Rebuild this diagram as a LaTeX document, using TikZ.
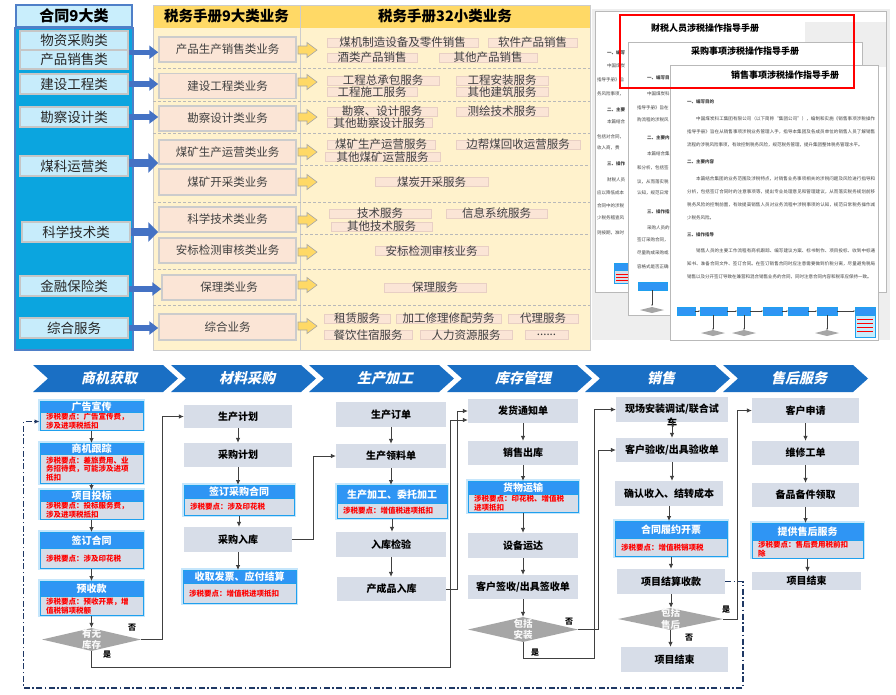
\documentclass[tikz,border=0pt]{standalone}
\usepackage{fontspec}
\setmainfont{Noto Sans CJK SC}
\newfontfamily\chevfont[FakeSlant=0.22]{Noto Sans CJK SC}
\XeTeXlinebreaklocale "zh"
\XeTeXlinebreakskip=0pt plus 1pt
\usetikzlibrary{shapes.geometric,arrows.meta,calc}
\definecolor{hdblue}{HTML}{2F95F4}
\definecolor{bdblue}{HTML}{1FA0EE}
\definecolor{glowc}{HTML}{B4DEFA}
\definecolor{gboxc}{HTML}{D7DDE8}
\definecolor{chevc}{HTML}{1A6FC4}
\definecolor{diamc}{HTML}{A6A6A6}
\definecolor{linec}{HTML}{404040}
\definecolor{navyc}{HTML}{1F3864}
\definecolor{lheadc}{HTML}{C9EEFC}
\definecolor{lbodyc}{HTML}{0BA5DF}
\definecolor{lboxc}{HTML}{C7ECFB}
\definecolor{lineblue}{HTML}{4F7FC8}
\definecolor{arrblue}{HTML}{4472C4}
\definecolor{goldc}{HTML}{FFD966}
\definecolor{creamc}{HTML}{FFF2CC}
\definecolor{peachc}{HTML}{FBE5D6}
\definecolor{peachln}{HTML}{E8CFC4}
\definecolor{txtg}{HTML}{404040}
\definecolor{redt}{HTML}{FF0000}
\tikzset{
  gboxst/.style={fill=gboxc, inner sep=0pt, font=\fontsize{10}{11}\selectfont\bfseries, text=black},
  taxhead/.style={fill=hdblue, draw=bdblue, line width=0.8pt, inner sep=0pt, font=\fontsize{10}{11}\selectfont\bfseries, text=white},
  taxbody/.style={fill=gboxc, draw=bdblue, line width=1pt, inner xsep=6pt, inner ysep=1pt, font=\fontsize{7.5}{8.8}\selectfont\bfseries, text=redt, align=left},
  glow/.style={draw=glowc, line width=4pt, opacity=0.75},
  conn/.style={draw=linec, line width=0.8pt, -{Latex[length=5pt,width=4.5pt]}},
  ddash/.style={draw=navyc, line width=1.3pt, dash pattern=on 6pt off 2.5pt on 1.5pt off 2.5pt, -{Latex[length=5pt,width=4.5pt]}},
  diam/.style={diamond, fill=diamc, inner sep=0pt},
  dtext/.style={align=center, font=\fontsize{9.5}{11.5}\selectfont\bfseries, text=white!95!gray, inner sep=0pt},
  lbl/.style={font=\fontsize{8}{9}\selectfont\bfseries, text=black, inner sep=0pt},
  chevtext/.style={font=\chevfont\bfseries\fontsize{14}{16}\selectfont, text=white},
  lheadst/.style={fill=lheadc, draw=lineblue, line width=1.2pt, inner sep=0pt, font=\fontsize{15}{17}\selectfont\bfseries},
  lboxst/.style={fill=lboxc, draw=gray!45, line width=1.5pt, inner sep=0pt, minimum width=108pt, font=\fontsize{13.5}{15}\selectfont, text=black!85},
  goldhd/.style={fill=goldc, inner sep=0pt, font=\fontsize{14.5}{16}\selectfont\bfseries},
  mboxst/.style={fill=peachc, draw=gray!40, line width=1.5pt, inner sep=0pt, minimum width=137pt, font=\fontsize{11.5}{13}\selectfont, text=txtg},
  barr/.style={draw=arrblue, line width=5.5pt, -{Triangle[length=9pt,width=13pt]}},
  barrbig/.style={draw=arrblue, line width=8pt, -{Triangle[length=10pt,width=19pt]}},
  yarrst/.style={fill=goldc, draw=gray!70, line width=0.6pt},
  sepl/.style={draw=gray!55, line width=0.6pt, dash pattern=on 3pt off 2pt},
  sfill/.style={fill=peachc, draw=peachln, line width=0.5pt},
  stext/.style={font=\fontsize{11.5}{13}\selectfont, text=txtg, inner sep=0pt},
  docpage/.style={fill=white, draw=gray!55, line width=0.6pt},
  dtiny/.style={font=\fontsize{4.5}{5}\selectfont, text=txtg, inner sep=0pt, anchor=west},
  dtinyb/.style={dtiny, font=\fontsize{4.5}{5}\selectfont\bfseries},
  dpara/.style={font=\fontsize{4.5}{13.3}\selectfont, text=txtg, inner sep=0pt, text width=188pt, align=justify, anchor=north west},
  dtitle/.style={font=\fontsize{9}{10}\selectfont\bfseries, text=black, inner sep=0pt},
  tinyblue/.style={fill=hdblue, draw=bdblue, line width=0.3pt},
  tinyline/.style={draw=linec, line width=0.3pt},
}
\newcommand\taxbox[8]{%
  \pgfmathsetmacro\tbw{#4-12}%
  \draw[glow] ({#2-#4/2},#3) rectangle ({#2+#4/2},{#3+#5+#6});%
  \node[taxbody, minimum width=#4pt, text width=\tbw pt, minimum height=#6pt, anchor=north] (#1) at (#2,{#3+#5}) {#8};%
  \node[taxhead, minimum width=#4pt, minimum height=#5pt, anchor=north] (#1h) at (#2,#3) {#7};%
}
\newcommand\chev[3]{%
  \fill[chevc] (#2,365) -- ({#2+130},365) -- ({#2+145},378.5) -- ({#2+130},392) -- (#2,392) -- ({#2+15},378.5) -- cycle;%
  \node[chevtext] (#1) at ({#2+76},378.5) {#3};}
\newcommand\yarr[1]{\draw[yarrst] (298,{#1-4}) -- (307,{#1-4}) -- (307,{#1-7.5}) -- (317,#1) -- (307,{#1+7.5}) -- (307,{#1+4}) -- (298,{#1+4}) -- cycle;}
\newcommand\scat[5]{\draw[sfill] (#2,{#4-4.5}) rectangle (#3,{#4+4.5}); \node[stext] (#1) at ({(#2+#3)/2},#4) {#5};}
\newcommand\vconn[2]{\draw[conn] (#1.south) -- (#1.south |- #2.north);}
\begin{document}
\begin{tikzpicture}[x=1pt,y=-1pt]
\useasboundingbox[fill=white] (0,0) rectangle (896,694);

% ---------- top left: contract classes ----------
\draw[fill=lbodyc, draw=lineblue, line width=1.5pt] (15,28) rectangle (133,350);
\node[lheadst, minimum width=116pt, minimum height=22pt] (lh) at (74,16) {合同9大类};
\node[lboxst, minimum height=19pt] (lb1a) at (74,40.5) {物资采购类};
\node[lboxst, minimum height=19pt] (lb1b) at (74,59.5) {产品销售类};
\node[lboxst, minimum height=20pt] (lb2) at (74,84) {建设工程类};
\node[lboxst, minimum height=20pt] (lb3) at (74,117) {勘察设计类};
\node[lboxst, minimum height=20pt] (lb4) at (74,166) {煤科运营类};
\node[lboxst, minimum height=20pt] (lb5) at (76,232) {科学技术类};
\node[lboxst, minimum height=20pt] (lb6) at (74,286) {金融保险类};
\node[lboxst, minimum height=20pt] (lb7) at (74,328) {综合服务};

% ---------- top middle / right: handbook ----------
\fill[creamc] (153,28) rectangle (590,350);
\node[goldhd, minimum width=147pt, minimum height=23pt] (mh) at (226.5,16.5) {税务手册9大类业务};
\node[goldhd, minimum width=290pt, minimum height=23pt] (rh) at (445,16.5) {税务手册32小类业务};
\draw[gray!40, line width=0.8pt] (153,5) rectangle (590,350);
\draw[gray!40, line width=0.8pt] (300,5) -- (300,350);
\foreach \yy in {68,101,133,202,269,305} {\draw[sepl] (153,\yy) -- (590,\yy);}
\foreach \yy in {165,234} {\draw[sepl] (300,\yy) -- (590,\yy);}

\node[mboxst, minimum height=25pt] (mb1) at (227.5,49.5) {产品生产销售类业务};
\node[mboxst, minimum height=25pt] (mb2) at (227.5,86) {建设工程类业务};
\node[mboxst, minimum height=25pt] (mb3) at (227.5,118.5) {勘察设计类业务};
\node[mboxst, minimum height=24pt] (mb4) at (227.5,152) {煤矿生产运营类业务};
\node[mboxst, minimum height=26pt] (mb5) at (227.5,182) {煤矿开采类业务};
\node[mboxst, minimum height=25pt] (mb6) at (227.5,219.5) {科学技术类业务};
\node[mboxst, minimum height=25pt] (mb7) at (227.5,250.5) {安标检测审核类业务};
\node[mboxst, minimum height=25pt, minimum width=134pt] (mb8) at (229,287.5) {保理类业务};
\node[mboxst, minimum height=26pt] (mb9) at (227.5,327) {综合业务};

\draw[barr] ([yshift=-3pt]lb1b.north east) -- ([yshift=-3pt]lb1b.north east -| mb1.west);
\draw[barr] (lb2.east) -- (lb2.east -| mb2.west);
\draw[barr] (lb3.east) -- (lb3.east -| mb3.west);
\draw[barrbig] ([yshift=3pt]lb4.east) -- ([yshift=3pt]lb4.east -| mb4.west);
\draw[barrbig] (lb5.east) -- (lb5.east -| mb6.west);
\draw[barr] ([yshift=-3pt]lb6.east) -- ([yshift=-3pt]lb6.east -| mb8.west);
\draw[barr] (lb7.east) -- (lb7.east -| mb9.west);

\foreach \yy in {50,82,117,152,182,220,252,285,326} {\yarr{\yy}}

\scat{s1}{327}{478}{42.5}{煤机制造设备及零件销售}
\scat{s2}{488}{577}{42.5}{软件产品销售}
\scat{s3}{327}{417}{57.5}{酒类产品销售}
\scat{s4}{439}{537}{57.5}{其他产品销售}
\scat{s5}{327}{439}{80.5}{工程总承包服务}
\scat{s6}{456}{548}{80.5}{工程安装服务}
\scat{s7}{327}{417}{92}{工程施工服务}
\scat{s8}{456}{548}{92}{其他建筑服务}
\scat{s9}{327}{437}{111.5}{勘察、设计服务}
\scat{s10}{456}{548}{111.5}{测绘技术服务}
\scat{s11}{327}{432}{123}{其他勘察设计服务}
\scat{s12}{327}{435}{144.5}{煤矿生产运营服务}
\scat{s13}{456}{580}{144.5}{边帮煤回收运营服务}
\scat{s14}{325}{440}{157}{其他煤矿运营服务}
\scat{s15}{375}{488}{182}{煤炭开采服务}
\scat{s16}{329}{431}{213.5}{技术服务}
\scat{s17}{446}{547}{213.5}{信息系统服务}
\scat{s18}{331}{432}{226.5}{其他技术服务}
\scat{s19}{375}{488}{251}{安标检测审核业务}
\scat{s20}{384}{486}{287.5}{保理服务}
\scat{s21}{324}{390}{318.5}{租赁服务}
\scat{s22}{396}{501}{318.5}{加工修理修配劳务}
\scat{s23}{508}{578}{318.5}{代理服务}
\scat{s24}{324}{412}{335}{餐饮住宿服务}
\scat{s25}{420}{512}{335}{人力资源服务}
\scat{s26}{525}{568}{335}{......}

% ---------- top right: handbook pages ----------
\fill[gray!13] (592,9) rectangle (890,340);
\draw[docpage] (595,11) rectangle (886,292);
\fill[gray!13] (805,22) rectangle (886,67);
\node[dtinyb] (p1a) at (607,53) {一、编写};
\node[dtiny] (p1b) at (607,66) {中国煤炭};
\node[dtiny] (p1c) at (597,80) {指导手册》旨};
\node[dtiny] (p1d) at (597,94) {务风险事项，};
\node[dtinyb] (p1e) at (607,110) {二、主要};
\node[dtiny] (p1f) at (607,122) {本篇结合};
\node[dtiny] (p1g) at (597,137) {包括对合同，};
\node[dtiny] (p1h) at (597,148) {收入商，费};
\node[dtinyb] (p1i) at (607,164) {三、操作};
\node[dtiny] (p1j) at (607,180) {财税人员};
\node[dtiny] (p1k) at (597,193) {应以降低成本};
\node[dtiny] (p1l) at (597,206) {合同中的涉税};
\node[dtiny] (p1m) at (597,218) {少税务稽查风};
\node[dtiny] (p1n) at (597,233) {则按期，准时};
\draw[tinyblue] (614,263) rectangle (635,270);
\draw[fill=gboxc, draw=bdblue, line width=0.3pt] (614,270) rectangle (635,283);
\foreach \yy in {274,277,280} {\draw[redt, line width=0.6pt] (616,\yy) -- (633,\yy);}

\draw[docpage] (628,42) rectangle (862,315);
\node[dtinyb] (p2a) at (647,78) {一、编写目};
\node[dtiny] (p2b) at (647,94) {中国煤炭科};
\node[dtiny] (p2c) at (637,108) {指导手册》旨在};
\node[dtiny] (p2d) at (637,120) {购流程的涉税风};
\node[dtinyb] (p2e) at (647,138) {二、主要内};
\node[dtiny] (p2f) at (647,154) {本篇结合集};
\node[dtiny] (p2g) at (637,168) {和分析，包括签};
\node[dtiny] (p2h) at (637,182) {议，从而落实税};
\node[dtiny] (p2i) at (637,193) {认知，规范日常};
\node[dtinyb] (p2j) at (647,212) {三、操作指};
\node[dtiny] (p2k) at (647,228) {采购人员的};
\node[dtiny] (p2l) at (637,240) {签订采购合同，};
\node[dtiny] (p2m) at (637,253) {尽量购成采购或};
\node[dtiny] (p2n) at (637,267) {容格式是否正确};
\draw[tinyblue] (638,282) rectangle (667,290);
\draw[tinyline, -{Latex[length=1.5pt,width=1.5pt]}] (652,290) -- (652,306);
\fill[diamc] (640,310) -- (652,307) -- (664,310) -- (652,313) -- cycle;

\draw[docpage] (670,65) rectangle (878,340);
\node[dtinyb] (p3a) at (687,102) {一、编写目的};
\node[dpara] (p3b) at (687,116) {\hspace*{9pt}中国煤炭科工集团有限公司（以下简称“集团公司”），编制和实施《销售事项涉税操作指导手册》旨在从销售事项涉税业务管理入手，指导本集团及各成员单位的销售人员了解销售流程的涉税风险事项，有效控制税务风险，规范税务管理，提升集团整体税务管理水平。};
\node[dtinyb] (p3c) at (687,162) {二、主要内容};
\node[dpara] (p3d) at (687,176) {\hspace*{9pt}本篇结合集团的业务范围及涉税特点，对销售业务事项相关的涉税问题及风险进行指导和分析，包括签订合同时的注意事项等，提出专业处理意见和管理建议，从而落实税务规划前移税务风险的控制前置，有效提高销售人员对业务流程中涉税事项的认知，规范日常税务操作减少税务风险。};
\node[dtinyb] (p3e) at (687,235) {三、操作指导};
\node[dpara] (p3f) at (687,248) {\hspace*{9pt}销售人员的主要工作流程有商机跟踪、编写建议方案、标书制作、项目投标、收到中标通知书、准备合同文件、签订合同。在签订销售合同时应注意需要做到价税分离，尽量避免税局销售以及分开签订导致在兼营和混合销售业务的合同，同时注意合同内容和税率应保持一致。};
% tiny flowchart
\foreach \xa/\xb in {677/695,700/727,737/750,763/782,788/808,817/837} {\draw[tinyblue] (\xa,307) rectangle (\xb,315);}
\foreach \xa/\xb in {695/700,727/737,750/763,782/788,808/817,837/855} {\draw[tinyline, -{Latex[length=1.5pt,width=1.5pt]}] (\xa,311) -- (\xb,311);}
\draw[tinyblue] (855,307) rectangle (875,315);
\draw[fill=lboxc, draw=bdblue, line width=0.3pt] (855,315) rectangle (875,337);
\foreach \yy in {319,323,327,331} {\draw[redt, line width=0.6pt] (857,\yy) -- (873,\yy);}
\foreach \cx in {713,744,827} {\fill[diamc] ({\cx-12},333) -- (\cx,330) -- ({\cx+12},333) -- (\cx,336) -- cycle;}
\draw[tinyline, -{Latex[length=1.5pt,width=1.5pt]}] (713,315) -- (713,330);
\draw[tinyline, -{Latex[length=1.5pt,width=1.5pt]}] (744,315) -- (744,330);
\draw[tinyline, -{Latex[length=1.5pt,width=1.5pt]}] (827,315) -- (827,330);

\draw[red, line width=1.5pt] (620,15) rectangle (854,88);
\node[dtitle] (t1) at (705,28) {财税人员涉税操作指导手册};
\node[dtitle] (t2) at (745,51) {采购事项涉税操作指导手册};
\node[dtitle] (t3) at (785,75) {销售事项涉税操作指导手册};

% ---------- bottom: chevrons ----------
\chev{c1}{33}{商机获取}
\chev{c2}{171}{材料采购}
\chev{c3}{309}{生产加工}
\chev{c4}{447}{库存管理}
\chev{c5}{585}{销售}
\chev{c6}{723}{售后服务}

% column 1
\taxbox{ad}{91.5}{401}{103}{11}{17}{广告宣传}{涉税要点：广告宣传费，\\涉及进项税抵扣}
\taxbox{sj}{91.5}{443}{103}{11}{29}{商机跟踪}{涉税要点：差旅费用、业\\务招待费，可能涉及进项\\抵扣}
\taxbox{tb}{91.5}{490}{103}{11}{17}{项目投标}{涉税要点：投标服务费，\\涉及进项税抵扣}
\taxbox{qd}{91.5}{532}{103}{16}{20}{签订合同}{涉税要点：涉及印花税}
\taxbox{ys}{91.5}{581}{103}{15}{19}{预收款}{涉税要点：预收开票，增\\值税销项税额}
\node[diam, minimum width=99pt, minimum height=23pt] (d1) at (91.5,639.5) {};
\node[dtext] (d1t) at (91.5,639.5) {有无\\库存};

% column 2
\node[gboxst, minimum width=108pt, minimum height=23pt] (scjh) at (238,416.5) {生产计划};
\node[gboxst, minimum width=108pt, minimum height=24pt] (cgjh) at (238,455) {采购计划};
\taxbox{qdcg}{239}{485}{110}{13}{17}{签订采购合同}{涉税要点：涉及印花税}
\node[gboxst, minimum width=108pt, minimum height=25pt] (cgrk) at (238,539.5) {采购入库};
\taxbox{sqfp}{239.5}{570}{113}{13}{20}{收取发票、应付结算}{涉税要点：增值税进项抵扣}

% column 3
\node[gboxst, minimum width=110pt, minimum height=25pt] (scdd) at (391,414.5) {生产订单};
\node[gboxst, minimum width=110pt, minimum height=24pt] (scll) at (391,456) {生产领料单};
\taxbox{scjg}{392}{485}{110}{18}{15}{生产加工、委托加工}{涉税要点：增值税进项抵扣}
\node[gboxst, minimum width=110pt, minimum height=25pt] (rkjy) at (391,544.5) {入库检验};
\node[gboxst, minimum width=109pt, minimum height=24pt] (ccrk) at (391.5,589) {产成品入库};

% column 4
\node[gboxst, minimum width=110pt, minimum height=24pt] (fh) at (523,411) {发货通知单};
\node[gboxst, minimum width=110pt, minimum height=24pt] (xsck) at (523,453) {销售出库};
\taxbox{hwys}{523}{481}{110}{13}{18}{货物运输}{涉税要点：印花税、增值税\\进项抵扣}
\node[gboxst, minimum width=110pt, minimum height=25pt] (sbyd) at (523,545.5) {设备运达};
\node[gboxst, minimum width=110pt, minimum height=24pt] (khqs) at (523,587) {客户签收/出具签收单};
\node[diam, minimum width=110pt, minimum height=25pt] (d2) at (523,629.5) {};
\node[dtext] (d2t) at (523,629.5) {包括\\安装};

% column 5
\node[gboxst, minimum width=112pt, minimum height=25pt] (xcaz) at (672,409.5) {现场安装调试/联合试};
\node[gboxst, fill=none] (xcazb) at (672,423) {车};
\node[gboxst, minimum width=112pt, minimum height=24pt] (khys) at (672,450) {客户验收/出具验收单};
\node[gboxst, minimum width=108pt, minimum height=25pt] (qrsr) at (669,493.5) {确认收入、结转成本};
\taxbox{htly}{671}{521}{112}{17}{18}{合同履约开票}{涉税要点：增值税销项税}
\node[gboxst, minimum width=108pt, minimum height=25pt] (jsk) at (671,581.5) {项目结算收款};
\node[diam, minimum width=105pt, minimum height=22pt] (d3) at (670.5,619) {};
\node[dtext] (d3t) at (670.5,619) {包括\\售后};
\node[gboxst, minimum width=107pt, minimum height=25pt] (xmjs1) at (674.5,659.5) {项目结束};

% column 6
\node[gboxst, minimum width=107pt, minimum height=25pt] (khsq) at (805.5,410.5) {客户申请};
\node[gboxst, minimum width=107pt, minimum height=24pt] (wxgd) at (805.5,453) {维修工单};
\node[gboxst, minimum width=107pt, minimum height=24pt] (bpbj) at (805.5,495) {备品备件领取};
\taxbox{tgsh}{807.5}{523}{111}{17}{17}{提供售后服务}{涉税要点：售后费用税前扣\\除}
\node[gboxst, minimum width=109pt, minimum height=18pt] (xmjs2) at (806.5,581) {项目结束};

% in-column connectors
\vconn{ad}{sjh} \vconn{sj}{tbh} \vconn{tb}{qdh} \vconn{qd}{ysh} \vconn{ys}{d1}
\vconn{scjh}{cgjh} \vconn{cgjh}{qdcgh} \vconn{qdcg}{cgrk} \vconn{cgrk}{sqfph}
\vconn{scdd}{scll} \vconn{scll}{scjgh} \vconn{scjg}{rkjy} \vconn{rkjy}{ccrk}
\vconn{fh}{xsck} \vconn{xsck}{hwysh} \vconn{hwys}{sbyd} \vconn{sbyd}{khqs} \vconn{khqs}{d2}
\vconn{xcaz}{khys} \vconn{khys}{qrsr} \vconn{qrsr}{htlyh} \vconn{htly}{jsk} \vconn{jsk}{d3} \vconn{d3}{xmjs1}
\vconn{khsq}{wxgd} \vconn{wxgd}{bpbj} \vconn{bpbj}{tgshh} \vconn{tgsh}{xmjs2}

% cross connectors
\draw[conn] (d1.east) -- ++(21,0) |- (scjh.west);
\node[lbl] (n1) at (132,628) {否};
\draw[conn] (d1.south) |- (450,667) |- ([yshift=-9pt]fh.west);
\node[lbl] (y1) at (107,655) {是};
\draw[conn] (cgrk.east) -- ++(21,0) |- (scll.west);
\draw[conn] (ccrk.east) -- ++(11,0) |- (fh.west);
\draw[conn] (d2.east) -- ++(20,0) |- (khys.west);
\node[lbl] (n2) at (569,622) {否};
\draw[conn] (d2.south) |- (594,658) |- (xcaz.west);
\node[lbl] (y2) at (535,653) {是};
\draw[conn] (d3.east) -- ++(14,0) |- (khsq.west);
\node[lbl] (y3) at (726,610) {是};
\node[lbl] (n3) at (689,638) {否};
\draw[ddash] (jsk.east) -| (743,688) -| ($(ad.west)+(-16,0)$) -- (ad.west);
\end{tikzpicture}
\end{document}
